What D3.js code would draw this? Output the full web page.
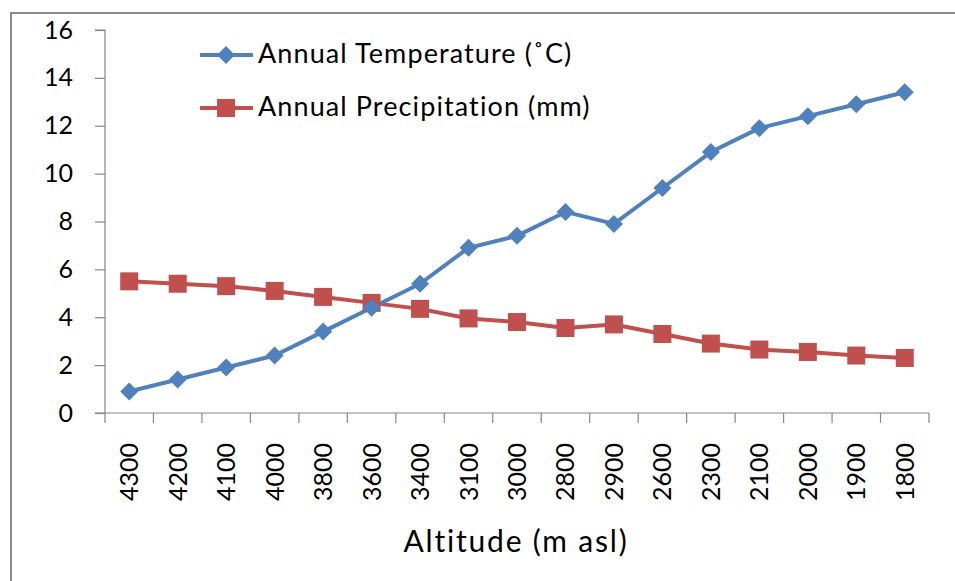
<!DOCTYPE html>
<html>
<head>
<meta charset="utf-8">
<script src="https://cdn.jsdelivr.net/npm/d3@7"></script>
<style>
  html, body { margin: 0; padding: 0; background: #fff; }
  svg text { font-family: Lato, "Open Sans", sans-serif; fill: #000; }
</style>
</head>
<body>
<svg id="chart" width="955" height="581"></svg>
<script>
const altitudes = ["4300","4200","4100","4000","3800","3600","3400","3100","3000","2800","2900","2600","2300","2100","2000","1900","1800"];
const temperature = [0.9,1.4,1.9,2.4,3.4,4.4,5.4,6.9,7.4,8.4,7.9,9.4,10.9,11.9,12.4,12.9,13.4];
const precipitation = [5.5,5.4,5.3,5.1,4.85,4.6,4.35,3.95,3.8,3.55,3.7,3.3,2.9,2.65,2.55,2.4,2.3];
const yTicks = [0,2,4,6,8,10,12,14,16];
const seriesNames = ["Annual Temperature (˚C)", "Annual Precipitation (mm)"];
const axisTitle = "Altitude (m asl)";

(function () {
const blue = "#4F81BD", red = "#C0504D", axisGray = "#868686";
const svg = d3.select("#chart");

// outer frame (left and top edges visible)
svg.append("path").attr("d", "M11,581 V13 H955")
  .attr("fill", "none").attr("stroke", "#8a8a8a").attr("stroke-width", 2);

const pL = 105, pR = 929, pT = 30, pB = 413;
const x = d3.scaleBand().domain(altitudes).range([pL, pR]).padding(0);
const y = d3.scaleLinear().domain([0, 16]).range([pB, pT]);

// y axis
const yAxis = svg.append("g").attr("transform", `translate(${pL},0)`)
  .call(d3.axisLeft(y).tickValues(yTicks).tickSize(10).tickPadding(22).tickFormat(d3.format("d")));
yAxis.select(".domain").attr("stroke", axisGray).attr("stroke-width", 1.2).attr("d", `M-10,${pT}H0V${pB}`);
yAxis.selectAll(".tick line").attr("stroke", axisGray).attr("stroke-width", 1.2);
yAxis.selectAll(".tick text").style("font-size", "25px").attr("fill", "#000");

// x axis
const xAxis = svg.append("g").attr("transform", `translate(0,${pB})`)
  .call(d3.axisBottom(x).tickSize(0).tickPadding(0));
xAxis.select(".domain").attr("stroke", axisGray).attr("stroke-width", 1.2).attr("d", `M${pL-10},0H${pR}`);
const bounds = altitudes.map(a => x(a)).concat([pR]);
xAxis.selectAll(".bound").data(bounds).enter().append("line")
  .attr("class", "bound").attr("x1", d => d).attr("x2", d => d).attr("y1", 0).attr("y2", 10)
  .attr("stroke", axisGray).attr("stroke-width", 1.2);
xAxis.selectAll(".tick text")
  .attr("transform", "translate(0,30) rotate(-90)")
  .attr("dy", "0.36em").attr("x", 0).attr("y", 0)
  .attr("text-anchor", "end")
  .style("font-size", "25px").attr("fill", "#000");

// axis title
svg.append("text").attr("x", 516).attr("y", 552).attr("text-anchor", "middle")
  .style("font-size", "30px").style("letter-spacing", "1.8px").text(axisTitle);

const cx = d => x(d) + x.bandwidth() / 2;
const line = d3.line().x((d, i) => cx(altitudes[i])).y(d => y(d));

svg.append("path").datum(precipitation).attr("d", line)
  .attr("fill", "none").attr("stroke", red).attr("stroke-width", 4).attr("stroke-linejoin", "round");
svg.append("path").datum(temperature).attr("d", line)
  .attr("fill", "none").attr("stroke", blue).attr("stroke-width", 4).attr("stroke-linejoin", "round");

const diamond = s => `M0,${-s}L${s},0L0,${s}L${-s},0Z`;
svg.selectAll(".pm").data(precipitation).enter().append("rect")
  .attr("x", (d, i) => cx(altitudes[i]) - 9).attr("y", d => y(d) - 9)
  .attr("width", 18).attr("height", 18).attr("fill", red);
svg.selectAll(".tm").data(temperature).enter().append("path")
  .attr("transform", (d, i) => `translate(${cx(altitudes[i])},${y(d)})`)
  .attr("d", diamond(9)).attr("fill", blue);

// legend
const legend = svg.append("g");
const rows = [{name: seriesNames[0], color: blue, type: "d", y: 55}, {name: seriesNames[1], color: red, type: "s", y: 108}];
rows.forEach(r => {
  legend.append("line").attr("x1", 200).attr("x2", 253).attr("y1", r.y).attr("y2", r.y)
    .attr("stroke", r.color).attr("stroke-width", 4);
  if (r.type === "d") {
    legend.append("path").attr("transform", `translate(226,${r.y})`).attr("d", diamond(9)).attr("fill", r.color);
  } else {
    legend.append("rect").attr("x", 217).attr("y", r.y - 9).attr("width", 18).attr("height", 18).attr("fill", r.color);
  }
  legend.append("text").attr("x", 258).attr("y", r.y + 8).style("font-size", "27px")
    .style("letter-spacing", "1.1px").text(r.name);
});
})();
</script>
</body>
</html>
